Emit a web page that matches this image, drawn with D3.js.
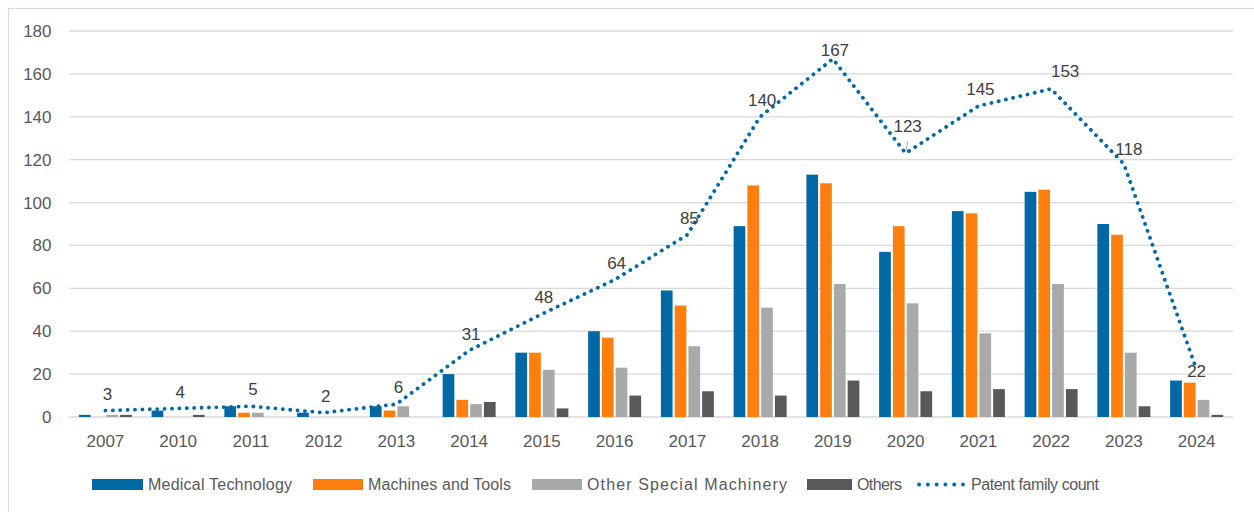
<!DOCTYPE html>
<html>
<head>
<meta charset="utf-8">
<script src="https://cdn.jsdelivr.net/npm/d3@7/dist/d3.min.js"></script>
<style>
  html, body { margin: 0; padding: 0; background: #fff; }
  svg { display: block; font-family: "Liberation Sans", Arial, sans-serif; }
</style>
</head>
<body>
<svg id="chart" width="1254" height="512"></svg>
<script>
// ---- data ----
const years = ["2007","2010","2011","2012","2013","2014","2015","2016","2017","2018","2019","2020","2021","2022","2023","2024"];
const medicalTechnology   = [1, 3, 5, 2, 5, 20, 30, 40, 59, 89, 113, 77, 96, 105, 90, 17];
const machinesAndTools    = [0, 0, 2, 0, 3, 8, 30, 37, 52, 108, 109, 89, 95, 106, 85, 16];
const otherSpecialMachinery = [1, 0, 2, 0, 5, 6, 22, 23, 33, 51, 62, 53, 39, 62, 30, 8];
const others              = [1, 1, 0, 0, 0, 7, 4, 10, 12, 10, 17, 12, 13, 13, 5, 1];
const patentFamilyCount   = [3, 4, 5, 2, 6, 31, 48, 64, 85, 140, 167, 123, 145, 153, 118, 22];
const yTicks = [0, 20, 40, 60, 80, 100, 120, 140, 160, 180];
const seriesNames = ["Medical Technology", "Machines and Tools", "Other Special Machinery", "Others"];
const lineName = "Patent family count";

// ---- styles / layout ----
const colors = ["#0068A5", "#FF7F0E", "#A9A9A9", "#595959"];
const lineColor = "#0068A5";
const textColor = "#595959";
const gridColor = "#D9D9D9";
const labelNudge = { "2019": [2, -9], "2020": [2, -27], "2022": [14, -18], "2023": [5, -15], "2024": [0, 1] };
const defaultNudge = [2, -17];

const svg = d3.select("#chart");
const plotLeft = 69, plotRight = 1233, plotTop = 31, plotBottom = 417;

svg.append("rect").attr("x", 8.5).attr("y", 8.5).attr("width", 1300).attr("height", 600)
  .attr("fill", "none").attr("stroke", gridColor).attr("stroke-width", 1.2);

const x = d3.scaleBand().domain(years).range([plotLeft, plotRight]).padding(0);
const x1 = d3.scaleBand().domain(d3.range(4)).range([-26.5, 26.5]).paddingInner(0.15).paddingOuter(0);
const y = d3.scaleLinear().domain([0, 180]).range([plotBottom, plotTop]);

// gridlines
svg.append("g").selectAll("line").data(yTicks).join("line")
  .attr("x1", plotLeft).attr("x2", plotRight)
  .attr("y1", d => y(d)).attr("y2", d => y(d))
  .attr("stroke", gridColor).attr("stroke-width", 1.3);

// y axis
const yAxis = svg.append("g").attr("transform", `translate(${plotLeft},0)`)
  .call(d3.axisLeft(y).tickValues(yTicks).tickSize(0).tickPadding(17.5));
yAxis.select(".domain").remove();
yAxis.selectAll("text").attr("fill", textColor).style("font-size", "17px")
  .style("font-family", "'Liberation Sans', Arial, sans-serif");

// x axis
const xAxis = svg.append("g").attr("transform", `translate(0,${plotBottom})`)
  .call(d3.axisBottom(x).tickSize(0).tickPadding(18));
xAxis.select(".domain").remove();
xAxis.selectAll("text").attr("fill", textColor).style("font-size", "17px")
  .style("font-family", "'Liberation Sans', Arial, sans-serif");

// bars
const allSeries = [medicalTechnology, machinesAndTools, otherSpecialMachinery, others];
const barsG = svg.append("g");
allSeries.forEach((vals, si) => {
  barsG.append("g").selectAll("rect").data(vals).join("rect")
    .attr("x", (d, i) => x(years[i]) + x.bandwidth() / 2 + x1(si))
    .attr("width", x1.bandwidth())
    .attr("y", d => y(d))
    .attr("height", d => y(0) - y(d))
    .attr("fill", colors[si]);
});

// dotted line
const line = d3.line().x((d, i) => x(years[i]) + x.bandwidth() / 2).y(d => y(d));
svg.append("path").datum(patentFamilyCount)
  .attr("d", line).attr("fill", "none")
  .attr("stroke", lineColor).attr("stroke-width", 3.8)
  .attr("stroke-linecap", "round").attr("stroke-dasharray", "0.1 7.3");

// leader line for 2020 label
{
  const i = years.indexOf("2020");
  const px = x(years[i]) + x.bandwidth() / 2, py = y(patentFamilyCount[i]);
  svg.append("line").attr("x1", px + 0.5).attr("y1", py - 2).attr("x2", px + 2).attr("y2", py - 12)
    .attr("stroke", "#A6A6A6").attr("stroke-width", 1);
}

// data labels
svg.append("g").selectAll("text").data(patentFamilyCount).join("text")
  .attr("x", (d, i) => x(years[i]) + x.bandwidth() / 2 + (labelNudge[years[i]] || defaultNudge)[0])
  .attr("y", (d, i) => y(d) + (labelNudge[years[i]] || defaultNudge)[1])
  .attr("dy", "0.36em")
  .attr("text-anchor", "middle")
  .attr("fill", "#404040").style("font-size", "17px")
  .text(d => d);

// legend
const legendItems = [
  { name: seriesNames[0], type: "bar", color: colors[0], x: 92, w: 51, tl: 144 },
  { name: seriesNames[1], type: "bar", color: colors[1], x: 313, w: 50, tl: 143 },
  { name: seriesNames[2], type: "bar", color: colors[2], x: 532, w: 50, tl: 200 },
  { name: seriesNames[3], type: "bar", color: colors[3], x: 807, w: 45, tl: 45 },
  { name: lineName, type: "line", color: lineColor, x: 919, tl: 128 }
];
const lg = svg.append("g");
legendItems.forEach(it => {
  const g = lg.append("g");
  let tx;
  if (it.type === "bar") {
    g.append("rect").attr("x", it.x).attr("y", 479).attr("width", it.w).attr("height", 11).attr("fill", it.color);
    tx = it.x + it.w + 5;
  } else {
    g.append("line").attr("x1", it.x).attr("x2", it.x + 44).attr("y1", 484.5).attr("y2", 484.5)
      .attr("stroke", it.color).attr("stroke-width", 3.8).attr("stroke-linecap", "round")
      .attr("stroke-dasharray", "0.1 8.7");
    tx = it.x + 52;
  }
  g.append("text").attr("x", tx).attr("y", 484.5).attr("dy", "0.36em")
    .attr("fill", textColor).style("font-size", "16px")
    .attr("textLength", it.tl).attr("lengthAdjust", "spacing")
    .text(it.name);
});
</script>
</body>
</html>
